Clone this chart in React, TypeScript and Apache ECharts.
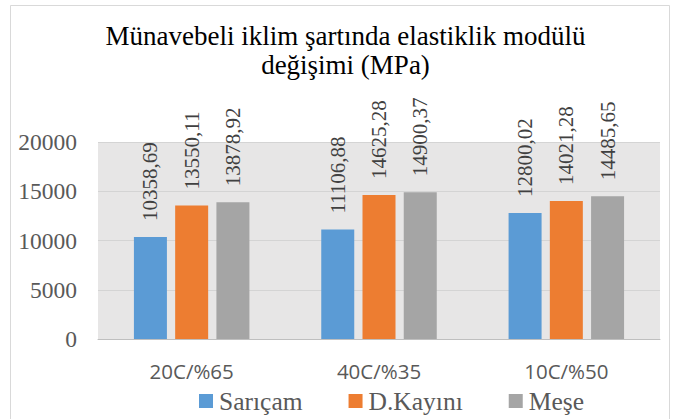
import React, { useEffect, useRef } from "react";
import * as echarts from "echarts";

const categories = ["20C/%65", "40C/%35", "10C/%50"];
const sarcam = [10358.69, 11106.88, 12800.02];
const dkayini = [13550.11, 14625.28, 14021.28];
const mese = [13878.92, 14900.37, 14485.65];
const seriesNames = ["Sarıçam", "D.Kayını", "Meşe"];
const colors = ["#5b9bd5", "#ed7d31", "#a5a5a5"];
const titleText = "Münavebeli iklim şartında elastiklik modülü\ndeğişimi (MPa)";

const fmt = (v: number) => v.toFixed(2).replace(".", ",");

export default function App() {
  const ref = useRef<HTMLDivElement>(null);
  useEffect(() => {
    if (!ref.current) return;
    const chart = echarts.init(ref.current, null, { renderer: "svg" });
    const serif = "Liberation Serif, Times New Roman, serif";
    const mk = (name: string, data: number[], color: string) => ({
      name,
      type: "bar",
      data,
      barWidth: 33,
      barGap: "25%",
      itemStyle: { color },
      label: {
        show: true,
        position: "top",
        rotate: 90,
        align: "left",
        verticalAlign: "middle",
        distance: 16,
        fontFamily: serif,
        fontSize: 21,
        color: "#404040",
        formatter: (p: any) => fmt(p.value),
      },
    });
    chart.setOption({
      animation: false,
      backgroundColor: "#ffffff",
      graphic: [
        {
          type: "rect",
          shape: { x: 10.5, y: 5.5, width: 659, height: 430 },
          style: { fill: "none", stroke: "#d9d9d9", lineWidth: 1 },
          silent: true,
        },
        {
          type: "text",
          x: 345.5,
          y: 21,
          style: {
            text: titleText,
            fontFamily: serif,
            fontSize: 27,
            lineHeight: 29,
            fill: "#000000",
            align: "center",
            verticalAlign: "top",
          },
        },
      ],
      grid: {
        left: 98,
        right: 16,
        top: 142,
        bottom: 80,
        show: true,
        backgroundColor: "#e7e6e6",
        borderWidth: 0,
      },
      legend: {
        data: seriesNames,
        left: 199,
        top: 388,
        itemWidth: 14,
        itemHeight: 14,
        itemGap: 46,
        padding: 0,
        icon: "rect",
        textStyle: { fontFamily: serif, fontSize: 25.5, color: "#595959", padding: [0, 0, 0, 1] },
      },
      xAxis: {
        type: "category",
        data: categories,
        axisLine: { lineStyle: { color: "#bfbfbf", width: 1 } },
        axisTick: { show: false },
        axisLabel: {
          fontFamily: "Open Sans",
          fontSize: 20.5,
          color: "#595959",
          margin: 21,
        },
      },
      yAxis: {
        type: "value",
        min: 0,
        max: 20000,
        interval: 5000,
        axisLine: { show: false },
        axisTick: { show: false },
        splitLine: { lineStyle: { color: "#d4d4d4", width: 1 } },
        axisLabel: {
          fontFamily: serif,
          fontSize: 23.5,
          color: "#595959",
          margin: 21,
          formatter: (v: number) => String(v),
        },
      },
      series: [
        mk(seriesNames[0], sarcam, colors[0]),
        mk(seriesNames[1], dkayini, colors[1]),
        mk(seriesNames[2], mese, colors[2]),
      ],
    });
    return () => chart.dispose();
  }, []);
  return (
    <div
      ref={ref}
      style={{ position: "fixed", left: 0, top: 0, width: 676, height: 419 }}
    />
  );
}
